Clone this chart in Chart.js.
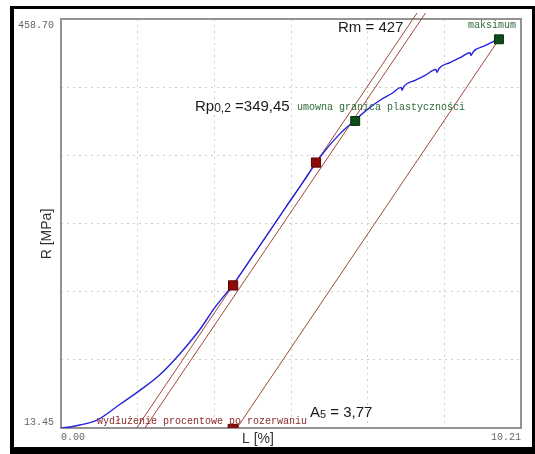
<!DOCTYPE html>
<html><head><meta charset="utf-8">
<script src="https://cdn.jsdelivr.net/npm/chart.js@4/dist/chart.umd.min.js"></script>
<style>html,body{margin:0;padding:0;background:#fff;overflow:hidden}canvas{display:block}</style>
</head><body>
<canvas id="c" width="535" height="454"></canvas>
<script>
// ---- axes ----
const X_MIN = 0, X_MAX = 10.21;
const Y_MIN = 13.45, Y_MAX = 458.70;
const X_TICKS = [0, 1.7017, 3.4033, 5.105, 6.8067, 8.5083, 10.21];
const Y_TICKS = [13.45, 87.66, 161.87, 236.08, 310.28, 384.49, 458.70];

// ---- stress-strain curve ----
const CURVE_L = [0.00, 0.20, 0.42, 0.80, 1.31, 1.75, 2.20, 2.64, 3.09, 3.42, 3.82, 4.20, 4.59, 4.99, 5.37, 5.66,
                 5.86, 6.19, 6.53, 6.81, 7.08, 7.35, 7.55, 7.57, 7.61, 7.86, 8.08, 8.32, 8.35, 8.39, 8.63, 8.86,
                 9.08, 9.10, 9.15, 9.41, 9.72];
const CURVE_R = [13.45, 14.53, 16.68, 22.07, 39.32, 54.42, 71.67, 94.31, 121.26, 144.98, 169.78, 196.73, 224.76, 253.87, 280.82, 302.38,
                 315.32, 333.65, 348.73, 360.59, 370.29, 377.84, 384.31, 381.20, 385.39, 391.86, 397.25, 403.72, 400.60, 404.79, 411.26, 416.65,
                 422.04, 418.90, 423.12, 429.59, 437.14];

// ---- construction lines ----
const LINE_A_L = [1.678, 7.902], LINE_A_R = [13.45, 465.2];
const LINE_B_L = [1.864, 8.090], LINE_B_R = [13.45, 465.2];
const LINE_C_L = [3.906, 9.72],  LINE_C_R = [13.45, 436.6];

// ---- marked points ----
const FIT_L = [3.82, 5.66], FIT_R = [168.7, 302.4];
const RP_L = [6.53], RP_R = [347.7];
const MAX_L = [9.72], MAX_R = [436.6];
const AS_L = [3.82], AS_R = [12.0];

const pts = (xs, ys) => xs.map((x, i) => ({x: x, y: ys[i]}));
const LINE_COLOR = '#a3463a';
const MONO = '"Liberation Mono", "DejaVu Sans Mono", monospace';
const SANS = '"Liberation Sans", Arial, sans-serif';

function drawRich(ctx, parts, x, y, color) {
  ctx.fillStyle = color;
  ctx.textBaseline = 'middle';
  ctx.textAlign = 'left';
  let cx = x;
  for (const p of parts) {
    ctx.font = p.f + 'px ' + SANS;
    ctx.fillText(p.t, cx, y + (p.dy || 0));
    cx += ctx.measureText(p.t).width;
  }
}

const framePlugin = {
  id: 'frame',
  beforeDatasetsDraw(chart) {
    const {ctx, chartArea: a} = chart;
    ctx.save();
    ctx.strokeStyle = '#939393';
    ctx.lineWidth = 2;
    ctx.strokeRect(a.left, a.top, a.right - a.left, a.bottom - a.top);
    ctx.restore();
  },
  afterDraw(chart) {
    const ctx = chart.ctx;
    ctx.save();
    // axis titles
    ctx.fillStyle = '#333';
    ctx.font = '14px ' + SANS;
    ctx.textAlign = 'center';
    ctx.textBaseline = 'middle';
    ctx.fillText('L [%]', 258, 439);
    ctx.save();
    ctx.translate(47, 234);
    ctx.rotate(-Math.PI / 2);
    ctx.fillText('R [MPa]', 0, 0);
    ctx.restore();

    // annotations
    drawRich(ctx, [{t: 'Rm = 427', f: 15}], 338, 28, '#1a1a1a');
    drawRich(ctx, [{t: 'Rp', f: 15}, {t: '0,2', f: 12, dy: 1.5}, {t: ' =349,45', f: 15}], 195, 107, '#1a1a1a');
    drawRich(ctx, [{t: 'A', f: 15}, {t: '5', f: 11, dy: 2}, {t: ' = 3,77', f: 15}], 310, 413, '#1a1a1a');

    ctx.font = '10px ' + MONO;
    ctx.textBaseline = 'middle';
    ctx.fillStyle = '#2f6b3a';
    ctx.textAlign = 'right';
    ctx.fillText('maksimum', 516, 25);
    ctx.textAlign = 'left';
    ctx.fillText('umowna granica plastyczności', 297, 107);
    ctx.fillStyle = '#8b2a2a';
    ctx.fillText('wydłużenie procentowe po rozerwaniu', 97, 421);

    // outer black frame
    ctx.fillStyle = '#000';
    ctx.fillRect(10, 6, 4, 448);
    ctx.fillRect(10, 6, 525, 3);
    ctx.fillRect(532, 6, 3, 448);
    ctx.fillRect(10, 447, 525, 7);
    ctx.restore();
  }
};

const gridColor = (n) => (c) => (c.index === 0 || c.index === n - 1) ? 'rgba(0,0,0,0)' : '#cdcdcd';

new Chart(document.getElementById('c'), {
  type: 'scatter',
  data: {
    datasets: [
      {label: 'A', data: pts(LINE_A_L, LINE_A_R), showLine: true, borderColor: LINE_COLOR, borderWidth: 1, pointRadius: 0, clip: false, order: 5},
      {label: 'B', data: pts(LINE_B_L, LINE_B_R), showLine: true, borderColor: LINE_COLOR, borderWidth: 1, pointRadius: 0, clip: false, order: 5},
      {label: 'C', data: pts(LINE_C_L, LINE_C_R), showLine: true, borderColor: LINE_COLOR, borderWidth: 1, pointRadius: 0, order: 5},
      {label: 'R(L)', data: pts(CURVE_L, CURVE_R), showLine: true, borderColor: '#2323dc', borderWidth: 1.4, pointRadius: 0, cubicInterpolationMode: 'monotone', order: 4},
      {label: 'fit', data: pts(FIT_L, FIT_R), pointStyle: 'rect', pointRadius: 6.5, backgroundColor: '#8e0b0b', borderColor: '#5a0000', borderWidth: 1, order: 1},
      {label: 'Rp', data: pts(RP_L, RP_R), pointStyle: 'rect', pointRadius: 6.3, backgroundColor: '#0e4d17', borderColor: '#062a0a', borderWidth: 1, order: 1},
      {label: 'max', data: pts(MAX_L, MAX_R), pointStyle: 'rect', pointRadius: 6.3, backgroundColor: '#0e4d17', borderColor: '#062a0a', borderWidth: 1, order: 1},
      {label: 'As', data: pts(AS_L, AS_R), pointStyle: 'rect', pointRadius: 7, backgroundColor: '#8e0b0b', borderColor: '#5a0000', borderWidth: 1, clip: 0, order: 1}
    ]
  },
  options: {
    responsive: false,
    animation: false,
    devicePixelRatio: 1,
    layout: {padding: {top: 15, right: 14, left: 0, bottom: 0}},
    plugins: {legend: {display: false}, tooltip: {enabled: false}},
    scales: {
      x: {
        type: 'linear', min: X_MIN, max: X_MAX,
        afterFit(s) { s.height = 26; },
        afterBuildTicks(s) { s.ticks = X_TICKS.map(v => ({value: v})); },
        grid: {color: gridColor(X_TICKS.length), lineWidth: 1, drawTicks: false},
        border: {display: false, dash: [2, 4]},
        ticks: {
          autoSkip: false, maxRotation: 0, minRotation: 0, align: 'inner', padding: 3,
          color: '#666', font: {family: MONO, size: 10},
          callback: (v, i) => (i === 0 || i === X_TICKS.length - 1) ? Number(v).toFixed(2) : ''
        }
      },
      y: {
        type: 'linear', min: Y_MIN, max: Y_MAX,
        afterFit(s) { s.width = 61; },
        afterBuildTicks(s) { s.ticks = Y_TICKS.map(v => ({value: v})); },
        grid: {color: gridColor(Y_TICKS.length), lineWidth: 1, drawTicks: false},
        border: {display: false, dash: [2, 4]},
        ticks: {
          autoSkip: false, padding: 7,
          color: '#666', font: {family: MONO, size: 10},
          callback: (v, i) => i === 0 ? [Number(v).toFixed(2), ''] : (i === Y_TICKS.length - 1 ? ['', Number(v).toFixed(2)] : '')
        }
      }
    }
  },
  plugins: [framePlugin]
});
</script>
</body></html>
